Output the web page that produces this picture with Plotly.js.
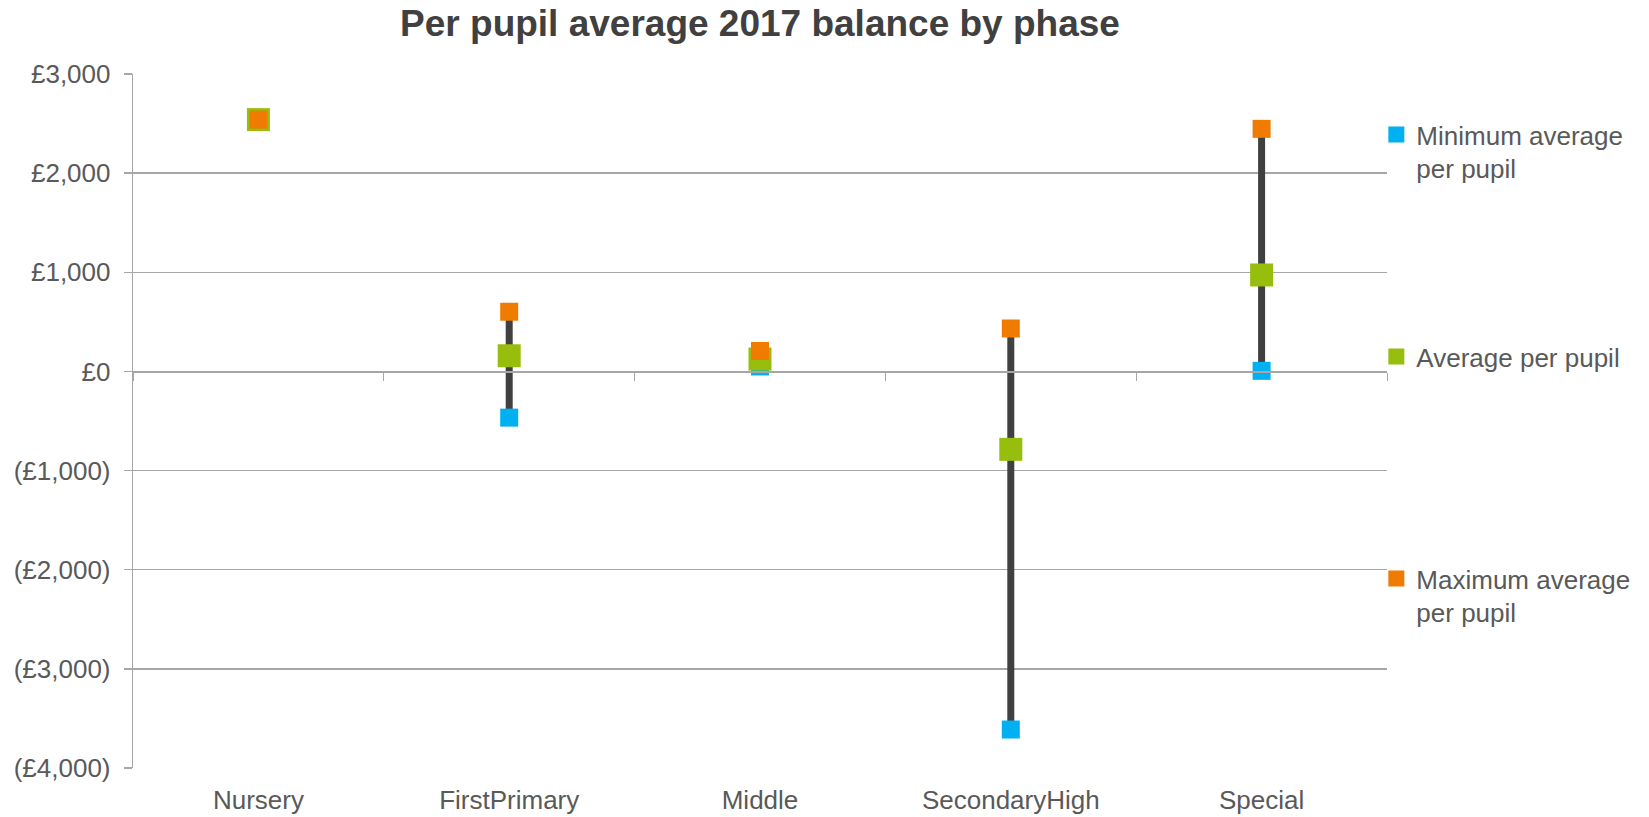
<!DOCTYPE html>
<html>
<head>
<meta charset="utf-8">
<script src="https://cdn.plot.ly/plotly-3.0.1.min.js"></script>
<style>html,body{margin:0;padding:0;background:#fff;}#chart{width:1649px;height:817px;}</style>
</head>
<body>
<div id="chart"></div>
<script>
// ---- data ----
var categories = ["Nursery", "FirstPrimary", "Middle", "SecondaryHigh", "Special"];
var minValues = [2540, -466, 50, -3612, 6];
var avgValues = [2540, 158, 125, -786, 973];
var maxValues = [2540, 602, 207, 433, 2447];
var seriesNames = ["Minimum average<br>per pupil", "Average per pupil", "Maximum average<br>per pupil"];
var yTickVals = [3000, 2000, 1000, 0, -1000, -2000, -3000, -4000];
var yTickText = ["£3,000", "£2,000", "£1,000", "£0", "(£1,000)", "(£2,000)", "(£3,000)", "(£4,000)"];
var boundaryTicks = [-0.5, 0.5, 1.5, 2.5, 3.5, 4.5];

// ---- high-low lines built from data ----
var lx = [], ly = [];
categories.forEach(function (c, i) {
  lx.push(c, c, null);
  ly.push(minValues[i], maxValues[i], null);
});

var FONT = "Liberation Sans, Arial, sans-serif";
var TXT = "#595959";
var GRID = "#A6A6A6";

var traces = [
  {x: lx, y: ly, mode: "lines", line: {color: "#404040", width: 7}, showlegend: false, hoverinfo: "skip"},
  {x: categories, y: minValues, name: seriesNames[0], mode: "markers", legend: "legend",
   marker: {symbol: "square", size: 18, color: "#00B0F0"}},
  {x: categories, y: avgValues, name: seriesNames[1], mode: "markers", legend: "legend2",
   marker: {symbol: "square", size: 23, color: "#97BE0D"}},
  {x: categories, y: maxValues, name: seriesNames[2], mode: "markers", legend: "legend3",
   marker: {symbol: "square", size: 18, color: "#EF7B00"}},
  // zero-line tick marks between categories
  {x: [], y: [], xaxis: "x2", yaxis: "y", showlegend: false, hoverinfo: "skip"}
];

function leg(y) {
  return {x: 0.9915, xanchor: "left", y: y, yanchor: "top", valign: "top",
          font: {family: FONT, size: 26, color: TXT}, bgcolor: "rgba(0,0,0,0)",
          itemwidth: 30, borderwidth: 0};
}

var layout = {
  width: 1649, height: 817,
  margin: {l: 133, r: 262, t: 74, b: 49, pad: 0, autoexpand: false},
  paper_bgcolor: "#fff", plot_bgcolor: "#fff",
  font: {family: FONT, size: 26, color: TXT},
  title: {text: "<b>Per pupil average 2017 balance by phase</b>",
          font: {family: FONT, size: 37, color: "#404040"},
          x: 0.5, xref: "paper", xanchor: "center", y: 0.972, yref: "container", yanchor: "middle"},
  xaxis: {type: "category", categoryarray: categories, range: [-0.5, 4.5],
          showgrid: false, zeroline: false, showline: false, ticks: "",
          tickfont: {family: FONT, size: 26, color: TXT}, ticklabelstandoff: 14, fixedrange: true},
  xaxis2: {overlaying: "x", anchor: "free", position: 4000 / 7000, range: [-0.5, 4.5],
           tickmode: "array", tickvals: boundaryTicks, showticklabels: false,
           ticks: "outside", ticklen: 8, tickwidth: 1, tickcolor: GRID,
           showgrid: false, zeroline: false, showline: true, linecolor: GRID, linewidth: 1.3},
  yaxis: {range: [-4000, 3000], tickmode: "array", tickvals: yTickVals, ticktext: yTickText,
          showgrid: true, gridcolor: GRID, gridwidth: 1.3, zeroline: false,
          showline: true, linecolor: GRID, linewidth: 1.3,
          ticks: "outside", ticklen: 8, tickcolor: GRID, tickwidth: 1.3,
          tickfont: {family: FONT, size: 26, color: TXT}, ticklabelstandoff: 8, fixedrange: true},
  legend: leg(0.9467),
  legend2: leg(0.6268),
  legend3: leg(0.3069),
  showlegend: true
};

Plotly.newPlot("chart", traces, layout, {displayModeBar: false, staticPlot: true});
</script>
</body>
</html>
